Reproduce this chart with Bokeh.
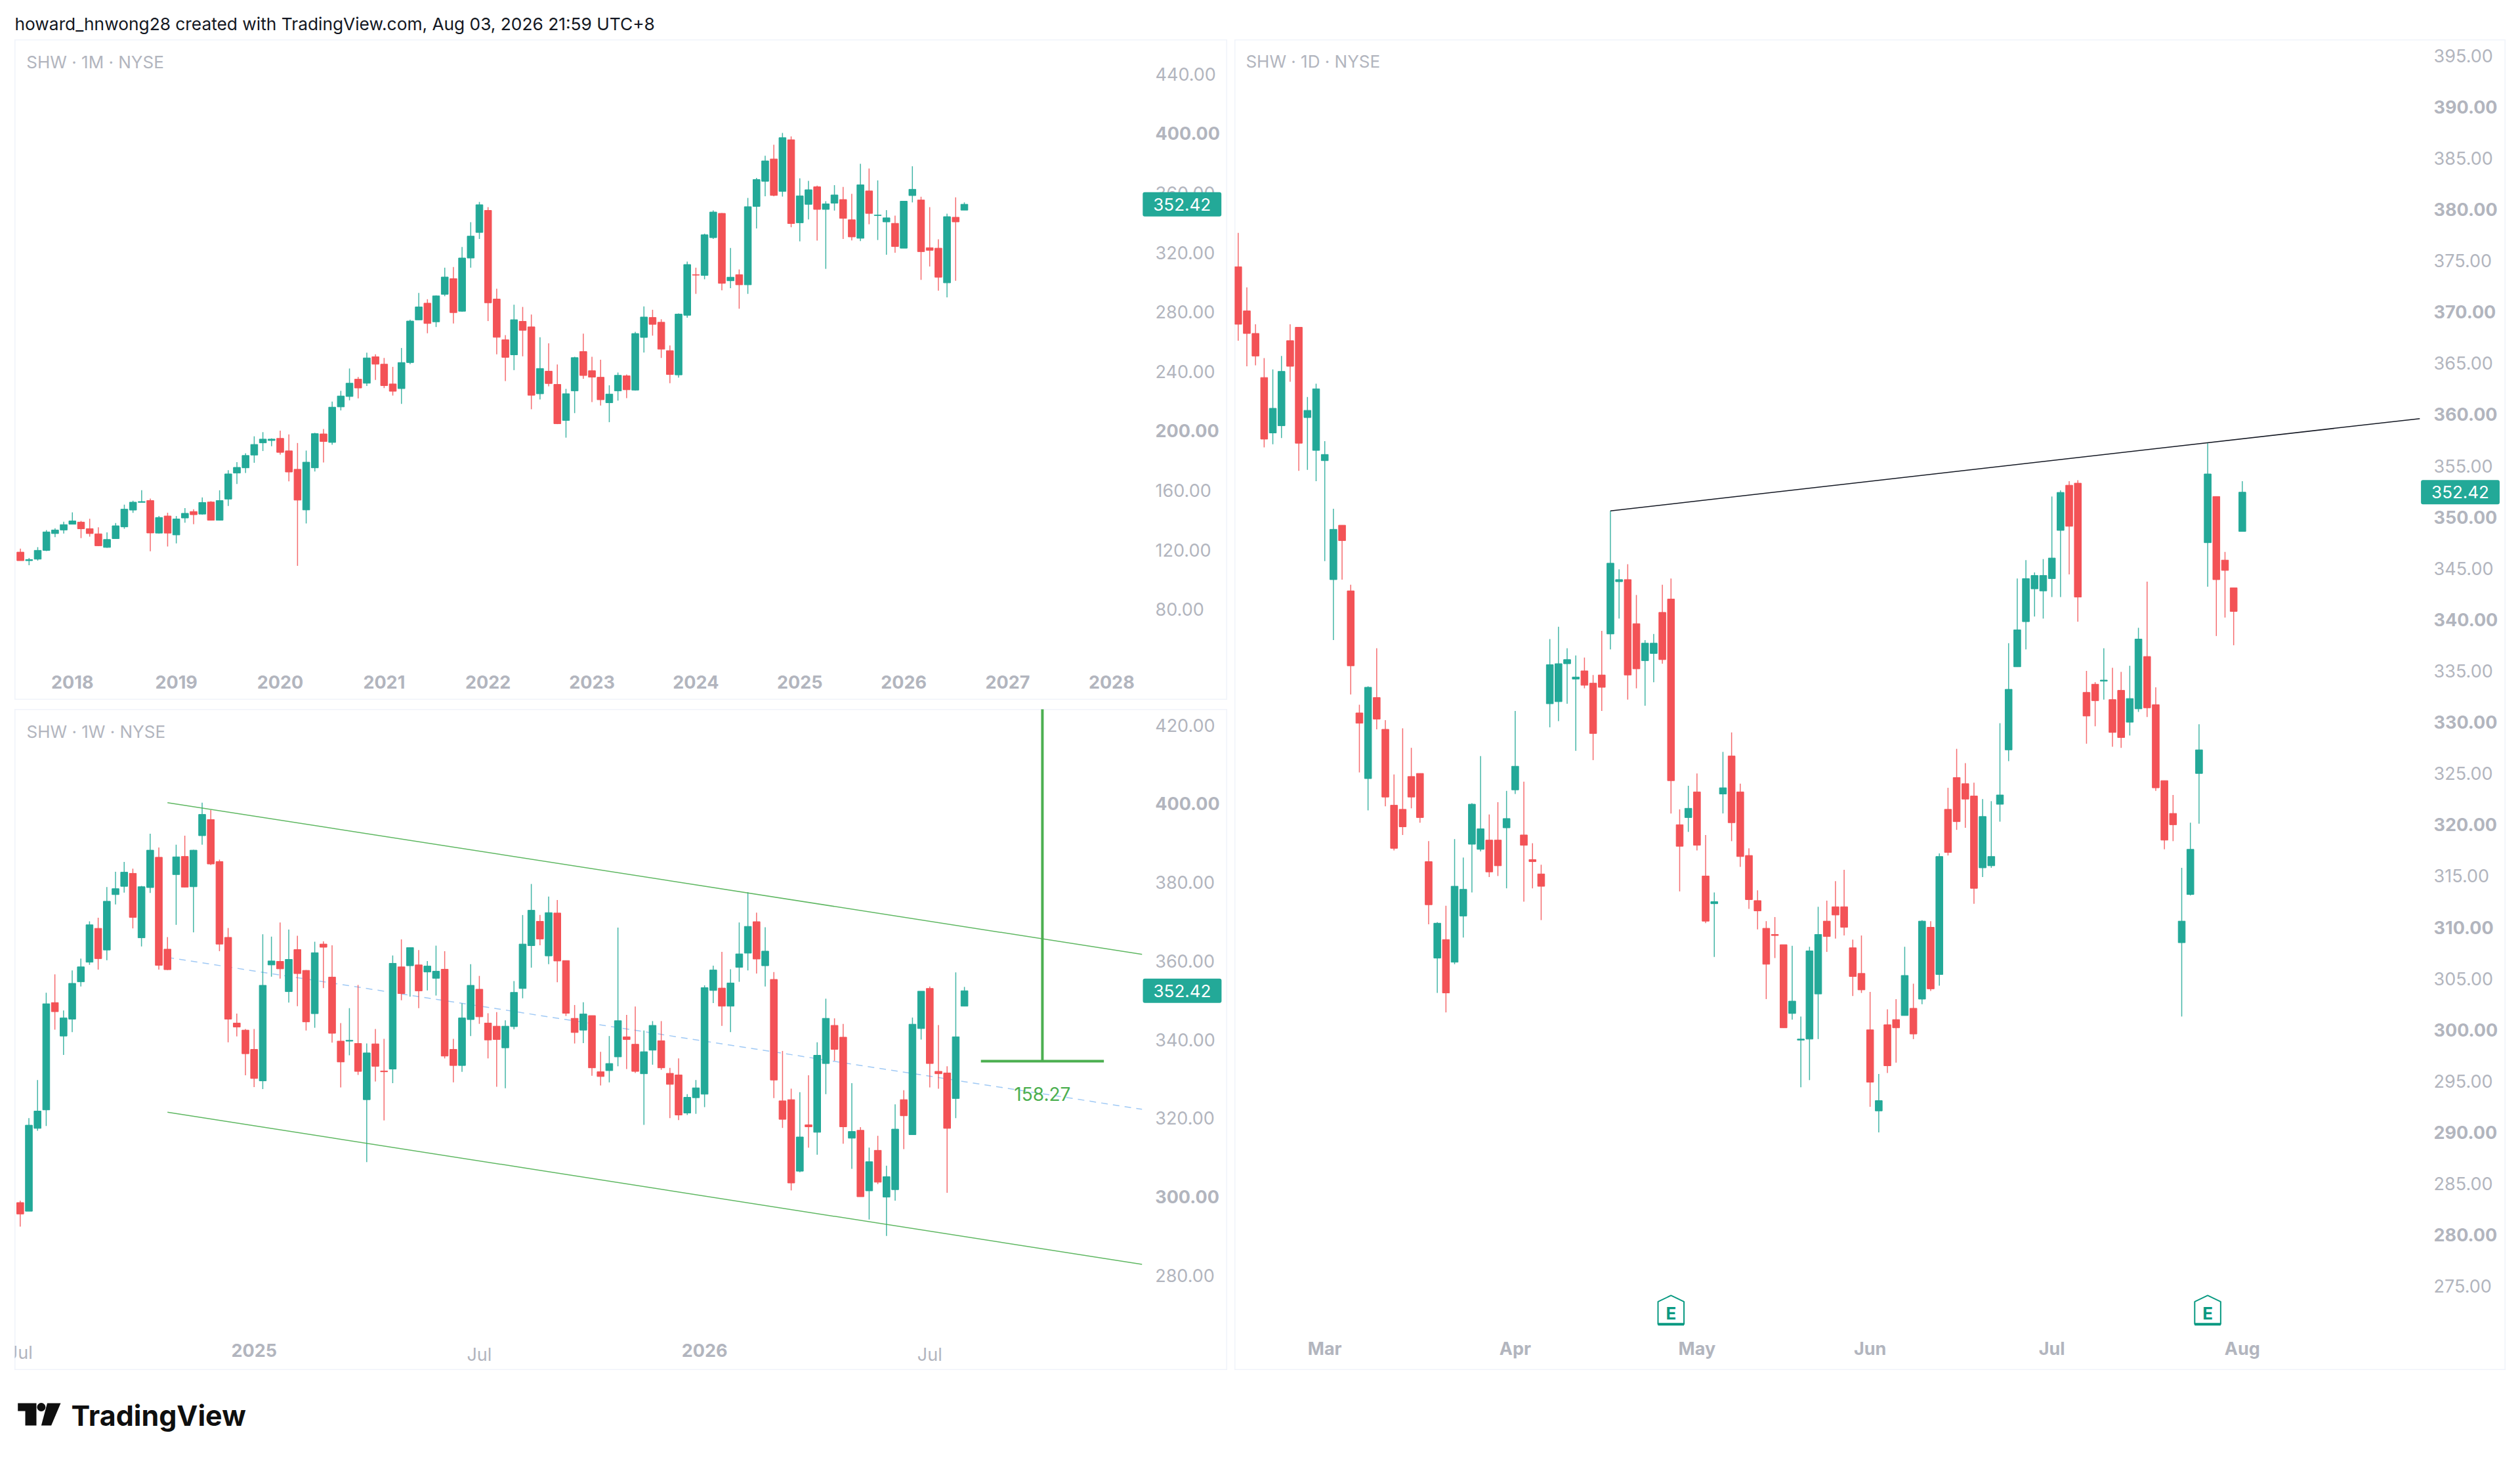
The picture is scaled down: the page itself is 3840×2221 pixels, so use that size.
from bokeh.plotting import figure
from bokeh.models import (Range1d, LinearAxis, FixedTicker, NumeralTickFormatter, Label,
                          Spacer, ColumnDataSource)
from bokeh.layouts import column, row
from bokeh.embed import file_html
from bokeh.resources import INLINE
from bokeh.core.properties import value

# ---------- monthly ----------
month_open = [118.5,112.8,113.8,119.7,131.0,133.4,137.3,138.7,134.3,130.8,
 121.7,127.6,135.5,146.8,152.0,153.2,131.3,142.8,130.1,141.5,
 145.8,144.1,152.2,140.0,154.2,171.7,175.2,183.8,192.0,193.6,
 195.0,186.6,174.2,146.9,175.2,198.0,192.3,216.2,223.2,234.8,
 232.1,249.9,244.9,231.6,228.5,246.0,274.7,285.9,273.4,291.9,
 302.4,280.5,316.3,333.5,348.3,288.7,261.3,251.2,273.7,270.0,
 225.0,240.2,231.3,207.1,227.0,253.4,240.5,236.1,219.0,227.0,
 237.1,227.5,262.9,276.3,273.1,254.0,237.7,277.8,305.1,304.6,
 330.0,346.3,301.0,305.1,298.3,351.0,367.9,382.9,361.1,395.8,
 340.0,352.4,364.2,349.0,353.2,355.6,342.0,329.6,361.4,344.9,
 340.6,339.6,322.9,358.3,355.3,323.2,322.9,299.6,343.7,348.5]
month_close = [112.8,113.5,119.7,132.1,133.4,137.0,139.5,134.2,131.0,122.8,
 127.0,136.2,147.4,152.1,152.5,131.4,141.8,131.3,140.8,144.6,
 143.7,151.9,140.0,153.2,171.1,175.5,183.5,190.9,194.5,194.5,
 185.6,172.4,153.5,179.0,198.2,192.9,216.0,223.5,232.1,228.9,
 249.1,244.9,230.5,226.7,246.0,273.9,283.4,272.3,290.8,303.5,
 279.6,316.3,331.0,352.1,286.2,263.0,249.5,274.8,267.7,224.0,
 242.0,231.9,204.9,225.0,249.3,237.3,236.2,221.0,224.8,237.4,
 227.7,265.5,276.6,271.7,255.0,238.0,278.6,311.9,304.8,331.9,
 347.2,299.3,303.4,298.3,350.8,369.1,381.6,358.4,397.2,339.5,
 358.1,362.2,349.0,352.7,358.7,343.0,330.5,365.5,346.3,345.2,
 343.3,324.0,354.5,362.5,320.6,321.5,303.4,344.1,340.6,352.42]
month_high = [120.9,114.6,121.9,133.3,134.6,139.0,145.3,139.5,140.9,135.2,
 131.8,138.1,150.4,153.1,160.1,154.5,142.8,145.0,142.8,148.1,
 147.4,155.3,152.8,160.1,173.6,179.0,185.0,196.4,199.2,195.0,
 200.2,197.7,191.9,186.8,198.8,201.3,219.8,227.0,242.0,236.3,
 252.6,251.5,249.1,243.1,255.8,274.8,292.8,288.6,291.2,309.8,
 310.3,323.7,340.4,354.0,350.5,295.7,264.4,284.9,283.4,278.3,
 263.0,258.9,244.7,228.3,249.9,265.4,249.9,247.9,230.7,239.3,
 238.0,266.7,283.8,281.5,275.1,257.5,279.0,313.9,309.8,332.7,
 348.3,346.6,323.1,308.6,356.7,370.2,385.1,392.5,400.4,398.1,
 369.9,368.2,365.0,354.5,365.3,364.1,359.5,379.7,376.5,368.5,
 348.5,344.8,354.5,378.0,357.5,350.5,328.9,346.1,357.1,353.7]
month_low = [112.8,109.7,112.8,119.2,128.6,131.0,137.3,127.9,128.9,122.5,
 121.4,127.6,134.2,144.9,152.0,119.1,131.0,122.3,124.4,138.3,
 137.3,143.7,139.8,139.8,149.6,164.4,171.7,178.6,186.5,189.7,
 184.1,166.1,109.3,137.8,172.7,178.8,190.7,213.8,220.6,221.9,
 230.2,234.3,228.8,223.8,218.2,244.9,274.7,265.7,269.9,290.6,
 272.3,280.2,309.8,329.1,273.9,251.5,233.6,240.9,250.2,214.6,
 221.2,230.0,204.6,195.5,212.0,235.1,219.4,217.1,205.9,220.4,
 222.1,227.1,252.8,264.1,249.1,232.1,235.9,276.1,292.2,302.0,
 329.1,294.6,296.0,282.2,292.2,336.2,357.8,357.8,357.6,337.0,
 327.5,342.2,328.0,309.0,348.2,329.1,328.1,327.7,339.0,328.4,
 318.5,319.8,322.9,353.7,301.6,310.6,294.4,289.8,301.0,348.5]
month_ticks = [6,18,30,42,54,66,78,90,102,114,126]
month_tick_labels = ["2018","2019","2020","2021","2022","2023","2024","2025","2026","2027","2028"]
month_prices = [80,120,160,240,280,320,360,440]
month_prices_bold = [200,400]

# ---------- weekly ----------
week_open = [298.5,296.3,317.4,322.1,349.4,340.9,345.2,354.7,359.7,368.3,
 362.8,376.9,379.0,382.3,365.9,378.7,386.4,363.0,382.0,386.6,
 378.9,391.9,396.0,385.3,366.0,344.2,342.4,337.5,329.5,359.0,
 359.9,352.2,362.9,357.6,346.6,364.3,355.9,339.6,339.6,339.0,
 324.7,338.9,332.0,332.5,358.5,358.8,359.0,357.2,355.6,357.9,
 337.5,333.4,345.1,352.8,344.2,343.4,337.9,343.3,353.0,363.9,
 370.1,361.3,372.2,360.1,345.4,342.4,346.1,331.8,332.1,335.6,
 340.7,338.8,331.3,337.3,339.7,331.4,331.0,321.3,325.2,326.1,
 352.5,353.1,348.5,358.4,362.0,370.0,358.8,355.3,324.4,324.7,
 306.5,318.3,316.4,333.9,343.6,340.6,314.9,316.9,301.5,311.8,
 299.9,301.8,324.7,315.8,342.8,353.0,331.9,331.5,325.0,348.5]
week_close = [295.6,318.2,321.8,349.1,347.1,345.5,354.3,358.5,369.2,360.6,
 375.2,378.4,382.6,371.1,378.9,388.2,358.9,357.8,386.5,378.8,
 388.2,397.3,384.7,364.3,345.2,343.2,336.4,330.1,353.8,360.0,
 358.0,360.4,356.8,344.5,362.1,363.5,341.6,334.3,339.8,331.9,
 336.6,333.2,331.8,359.4,351.7,363.4,352.4,358.7,357.4,335.8,
 333.4,345.5,353.8,345.8,339.9,340.0,343.4,352.0,364.3,372.9,
 365.6,372.3,360.0,346.7,341.8,346.5,332.8,330.6,333.9,344.8,
 340.0,331.9,336.9,343.6,332.8,328.6,320.8,325.3,327.7,353.2,
 357.7,348.5,354.4,361.8,368.8,360.5,362.5,329.7,319.7,303.5,
 315.2,317.8,336.0,345.4,337.5,317.8,316.6,300.0,308.9,303.7,
 305.1,317.2,320.6,343.9,352.3,333.9,331.3,317.4,340.7,352.42]
week_high = [299.0,320.0,329.7,351.9,356.6,347.4,357.6,360.6,370.1,371.0,
 378.8,382.7,385.2,383.5,379.1,392.4,388.9,366.1,389.6,391.9,
 388.3,400.3,398.4,385.8,368.4,346.6,342.7,342.7,366.8,366.2,
 369.8,368.0,366.4,357.7,364.9,365.0,364.0,344.2,348.0,353.9,
 339.0,342.7,340.2,361.4,365.5,363.4,362.8,360.0,363.9,362.5,
 340.2,349.2,359.2,356.2,346.7,347.0,344.9,354.9,371.7,379.6,
 371.7,376.4,375.5,360.1,348.8,349.5,346.1,336.9,340.9,368.5,
 346.3,348.4,342.3,344.7,344.7,332.8,335.2,326.1,329.7,353.8,
 358.8,362.3,357.9,369.8,377.5,372.3,368.6,357.2,337.1,327.5,
 326.6,330.9,339.3,350.4,345.4,344.0,328.9,317.7,312.5,315.5,
 307.9,323.5,327.1,345.6,352.3,353.5,343.7,333.2,357.1,353.4]
week_low = [292.4,296.3,316.8,318.0,342.5,336.1,341.9,353.5,359.0,357.8,
 360.2,374.4,377.4,368.3,363.7,377.3,357.8,357.7,369.2,378.7,
 367.3,389.6,384.4,362.5,339.3,340.8,330.9,327.9,327.4,356.0,
 355.5,349.4,348.5,342.3,343.0,353.1,339.2,327.8,336.0,331.0,
 308.8,329.3,319.4,328.9,350.0,350.9,348.0,352.5,351.2,335.2,
 329.1,331.8,340.9,344.0,335.2,328.0,327.6,342.6,350.5,358.3,
 364.0,359.2,354.6,346.0,339.0,339.1,330.8,328.3,329.1,333.2,
 332.5,331.5,318.3,333.6,332.3,320.0,319.5,320.8,321.1,322.8,
 349.3,343.5,341.9,354.7,357.6,356.8,353.5,325.1,317.5,301.6,
 306.2,312.5,310.7,326.1,334.6,313.5,307.1,300.0,294.2,303.2,
 290.0,299.0,312.1,315.8,340.0,327.8,327.5,301.0,320.0,348.5]
week_ticks = [53,105]
week_tick_labels = ["Jul","Jul"]
week_first_tick = 0
week_first_label = "Jul"
week_ticks_bold = [27,79]
week_tick_labels_bold = ["2025","2026"]
week_prices = [280,320,340,360,380,420]
week_prices_bold = [300,400]
channel_x = [17.0,129.5]
channel_upper = [400.3,361.7]
channel_lower = [321.5,282.8]
channel_middle = [360.9,322.25]
ruler_bar = 118
ruler_span = [110.9,125.1]
ruler_base = 334.5
ruler_height = 158.27

# ---------- daily ----------
day_open = [374.4,370.1,367.9,363.6,358.2,358.9,367.2,368.5,359.7,356.5,
 355.5,343.9,349.2,342.8,330.9,324.5,332.4,329.3,321.9,321.5,
 324.7,325.0,316.4,307.0,308.8,306.6,311.1,318.1,317.6,318.5,
 318.5,319.7,323.4,319.0,316.6,315.2,331.8,332.0,335.7,334.2,
 335.0,333.8,334.6,338.6,343.7,343.9,339.6,336.0,336.7,340.7,
 342.0,320.0,320.7,323.2,315.0,312.3,323.0,326.7,323.2,317.0,
 312.6,309.9,309.3,308.3,301.6,299.0,299.1,303.5,310.6,312.0,
 312.0,308.0,305.5,300.0,292.1,300.5,301.0,301.4,302.1,303.0,
 310.0,305.4,321.5,324.6,324.0,322.8,315.8,316.0,322.0,327.3,
 335.4,339.8,343.0,342.8,344.0,348.7,353.1,353.3,332.9,333.7,
 334.0,332.2,333.1,330.0,331.3,336.4,331.7,324.3,321.1,308.5,
 313.2,325.0,347.5,352.0,345.8,343.1,348.6]
day_close = [368.8,367.9,365.7,357.6,360.6,364.2,364.7,357.2,360.4,362.5,
 356.1,348.8,347.7,335.5,329.9,333.4,330.3,322.7,317.7,319.8,
 322.7,320.7,312.2,310.4,303.6,314.0,313.7,322.0,319.6,315.4,
 316.0,320.6,325.7,318.0,316.4,314.0,335.6,335.7,336.1,334.4,
 333.6,328.9,333.4,345.5,343.9,334.6,335.2,337.7,337.7,336.1,
 324.3,317.9,321.6,318.0,310.6,312.5,323.6,320.2,316.9,312.7,
 311.6,306.4,309.2,300.2,302.8,299.1,307.7,309.3,309.1,311.2,
 310.0,305.2,303.9,294.9,293.1,296.5,300.2,305.3,299.6,310.6,
 304.0,316.9,317.3,320.3,322.5,313.8,320.8,316.9,322.9,333.2,
 339.0,344.0,344.3,344.3,346.0,352.4,349.1,342.2,330.6,332.1,
 334.1,329.0,328.5,332.3,338.1,331.4,323.6,318.5,320.0,310.6,
 317.6,327.3,354.2,343.9,344.8,340.8,352.42]
day_high = [377.7,372.4,368.8,365.5,364.4,365.7,368.8,368.5,361.7,363.0,
 357.4,350.8,349.2,343.4,331.7,333.5,337.2,330.2,324.9,329.4,
 327.5,325.0,318.4,310.5,312.1,318.6,316.8,322.1,326.7,321.0,
 322.2,323.3,331.1,324.2,318.2,316.1,338.1,339.3,337.2,336.5,
 336.3,334.6,338.9,350.6,344.9,345.4,342.4,338.0,338.6,343.4,
 344.0,321.5,323.8,325.0,319.0,313.4,327.1,329.0,324.0,317.7,
 313.6,310.6,311.0,308.3,308.2,301.3,308.1,312.0,312.6,314.5,
 315.6,308.8,309.2,303.7,295.7,302.0,303.0,308.1,304.5,310.7,
 310.6,317.2,323.6,327.4,326.0,324.1,322.5,322.3,329.9,337.7,
 344.0,345.8,344.6,345.9,352.0,352.6,353.5,353.6,335.0,333.9,
 337.2,335.3,334.9,335.5,339.2,343.7,333.4,324.3,322.9,315.8,
 320.2,329.8,357.2,352.0,346.6,343.1,353.5]
day_low = [367.2,364.7,364.8,356.8,357.1,357.7,363.2,354.5,354.6,353.5,
 345.7,338.0,343.9,332.7,325.1,321.4,329.3,321.8,317.5,319.0,
 321.6,320.2,310.3,303.6,301.7,306.4,309.0,313.4,317.4,314.9,
 315.0,313.8,323.0,312.5,313.8,310.7,329.5,330.1,331.8,327.2,
 333.3,326.3,331.1,337.1,340.1,332.2,333.3,331.6,333.9,335.7,
 321.1,313.5,319.3,317.5,310.4,307.1,321.1,318.4,315.9,311.8,
 309.8,303.0,307.0,300.2,301.0,294.4,295.1,299.1,307.6,308.9,
 309.2,303.3,303.6,292.5,290.0,295.8,296.8,301.4,299.1,302.5,
 303.8,304.3,317.0,319.5,319.7,312.3,314.9,315.8,320.3,326.2,
 335.4,337.1,340.3,340.1,342.2,342.2,344.4,339.8,327.9,329.6,
 332.2,327.6,327.5,328.7,331.0,330.5,323.3,317.6,318.4,301.3,
 313.1,320.1,343.2,338.4,340.2,337.5,348.6]
day_ticks = [10,32,53,73,94,116]
day_tick_labels = ["Mar","Apr","May","Jun","Jul","Aug"]
day_prices = [275,285,295,305,315,325,335,345,355,365,375,385,395]
day_prices_bold = [280,290,300,310,320,330,340,350,360,370,380,390]
trend_x = [43,136.5]
trend_y = [350.6,359.6]
earnings_bars = [50,112]

last_price = 352.42
GREEN = "#23a998"
RED = "#f35256"
TICK = "#b2b5be"
FONT = "Inter"


def pane(w, h, x_range, y_range):
    p = figure(width=w, height=h, x_range=x_range, y_range=y_range,
               x_axis_location=None, y_axis_location=None,
               toolbar_location=None, output_backend="svg", min_border=0,
               background_fill_color="white", border_fill_color="white",
               outline_line_color="#f0f3fa", outline_line_width=2)
    p.grid.visible = False
    return p


def candles(p, o, h, l, c):
    x = list(range(len(o)))
    colors = [GREEN if cc >= oo else RED for oo, cc in zip(o, c)]
    src = ColumnDataSource(dict(x=x, o=o, h=h, l=l, c=c, color=colors))
    p.segment("x", "h", "x", "l", source=src, line_color="color", line_width=1.5, line_alpha=0.85)
    p.vbar("x", 0.8, "o", "c", source=src, fill_color="color", line_color="color", line_width=1)


def style_axis(a, bold=False, standoff=20):
    a.axis_line_color = None
    a.major_tick_line_color = None
    a.minor_tick_line_color = None
    a.major_tick_out = 0
    a.major_tick_in = 0
    a.minor_tick_out = 0
    a.minor_tick_in = 0
    a.major_label_text_color = TICK
    a.major_label_text_font = FONT
    a.major_label_text_font_size = "27px"
    a.major_label_standoff = standoff
    a.major_label_text_font_style = "bold" if bold else "normal"


def price_axes(p, regular, bolds, at):
    for ticks, is_bold in ((regular, False), (bolds, True)):
        a = LinearAxis(ticker=FixedTicker(ticks=ticks), formatter=NumeralTickFormatter(format="0.00"),
                       fixed_location=at)
        style_axis(a, bold=is_bold)
        p.add_layout(a, "right")


def time_axis(p, ticks, labels, at, standoff, bold=True):
    a = LinearAxis(ticker=FixedTicker(ticks=ticks),
                   major_label_overrides={t: s for t, s in zip(ticks, labels)},
                   fixed_location=at)
    style_axis(a, bold=bold, standoff=standoff)
    p.add_layout(a, "below")


def last_label(p, x):
    p.add_layout(Label(x=x, y=last_price, text=f"{last_price:.2f}",
                       text_color="white", text_font=FONT, text_font_size="26px",
                       text_baseline="middle", text_align="left",
                       background_fill_color=GREEN, padding=(16, 9), border_radius=3,
                       level="overlay"))


def title(p, x, y, text):
    p.add_layout(Label(x=x, y=y, text=text, text_color=TICK, text_font=FONT,
                       text_font_size="26px", text_baseline="middle", text_align="left"))


# monthly pane
p1 = pane(1848, 1006, Range1d(-0.652, 139.39), Range1d(19.0, 463.1))
candles(p1, month_open, month_high, month_low, month_close)
price_axes(p1, month_prices, month_prices_bold, 129.54)
time_axis(p1, month_ticks, month_tick_labels, 47.2, 26)
title(p1, 0.7, 447.9, "SHW · 1M · NYSE")
last_label(p1, 129.6)

# weekly pane
p2 = pane(1848, 1007, Range1d(-0.63, 139.37), Range1d(255.8, 424.06))
p2.line(channel_x, channel_middle, line_color="#9fc9f5", line_width=1.5, line_dash="10 8")
candles(p2, week_open, week_high, week_low, week_close)
p2.line(channel_x, channel_upper, line_color="#4caf50", line_width=1.5, line_alpha=0.9)
p2.line(channel_x, channel_lower, line_color="#4caf50", line_width=1.5, line_alpha=0.9)
p2.segment([ruler_bar], [ruler_base], [ruler_bar], [ruler_base + ruler_height],
           line_color="#4caf50", line_width=4)
p2.segment([ruler_span[0]], [ruler_base], [ruler_span[1]], [ruler_base],
           line_color="#4caf50", line_width=4)
p2.add_layout(Label(x=ruler_bar, y=326.2, text=f"{ruler_height:.2f}", text_color="#4caf50",
                    text_font=FONT, text_font_size="28px", text_align="center",
                    text_baseline="middle"))
price_axes(p2, week_prices, week_prices_bold, 129.5)
time_axis(p2, week_ticks, week_tick_labels, 266.2, 22, bold=False)
time_axis(p2, week_ticks_bold, week_tick_labels_bold, 266.2, 22, bold=True)
# The first tick sits on the pane's edge: a glyph is clipped by the frame as in the reference.
p2.text([week_first_tick], [260.3], text=[week_first_label], text_color=TICK, text_font=value(FONT),
        text_font_size="27px", text_align="center", text_baseline="middle")
title(p2, 0.73, 418.3, "SHW · 1W · NYSE")
last_label(p2, 129.6)

# daily pane
p3 = pane(1937, 2027, Range1d(-0.40, 146.45), Range1d(266.8, 396.54))
candles(p3, day_open, day_high, day_low, day_close)
p3.line(trend_x, trend_y, line_color="#131722", line_width=1.5)
price_axes(p3, day_prices, day_prices_bold, 136.6)
time_axis(p3, day_ticks, day_tick_labels, 271.0, 16)
title(p3, 0.88, 394.4, "SHW · 1D · NYSE")
last_label(p3, 136.64)
for b in earnings_bars:
    p3.patch([b - 1.5, b - 1.5, b, b + 1.5, b + 1.5], [271.3, 273.5, 274.1, 273.5, 271.3],
             fill_color="white", line_color="#089981", line_width=2)
    p3.segment([b - 1.5], [271.3], [b + 1.5], [271.3], line_color="#089981", line_width=4)
    p3.text([b], [272.4], text=["E"], text_color="#089981", text_font=value(FONT),
            text_font_size="26px", text_font_style="bold", text_align="center",
            text_baseline="middle")

# header and footer use page pixels as their data space
def strip(h, y0, y1):
    s = figure(width=3832, height=h, x_range=Range1d(0, 3832), y_range=Range1d(y1, y0),
               x_axis_location=None, y_axis_location=None, toolbar_location=None,
               output_backend="svg", min_border=0, outline_line_color=None)
    s.grid.visible = False
    return s

header = strip(60, 0, 60)
header.add_layout(Label(x=22, y=36, text="howard_hnwong28 created with TradingView.com, Aug 03, 2026 21:59 UTC+8",
                        text_color="#131722", text_font=FONT, text_font_size="26.3px",
                        text_baseline="middle"))

footer = strip(126, 2087, 2213)
footer.patch([26.7, 55, 55, 38, 38, 26.7], [2137, 2137, 2171, 2171, 2149, 2149], fill_color="#0f0f0f", line_color=None)
footer.patch([71.5, 92, 77.6, 62.4], [2137, 2137, 2171, 2171], fill_color="#0f0f0f", line_color=None)
footer.scatter([62.4], [2143], size=13, fill_color="#0f0f0f", line_color=None)
footer.add_layout(Label(x=108, y=2155, text="TradingView", text_color="#0f0f0f", text_font=FONT,
                        text_font_size="43px", text_font_style="bold", text_baseline="middle"))

layout = column(header,
                row(Spacer(width=22), column(p1, Spacer(height=14), p2), Spacer(width=11), p3),
                footer)
open("out.html", "w").write(file_html(layout, INLINE))
